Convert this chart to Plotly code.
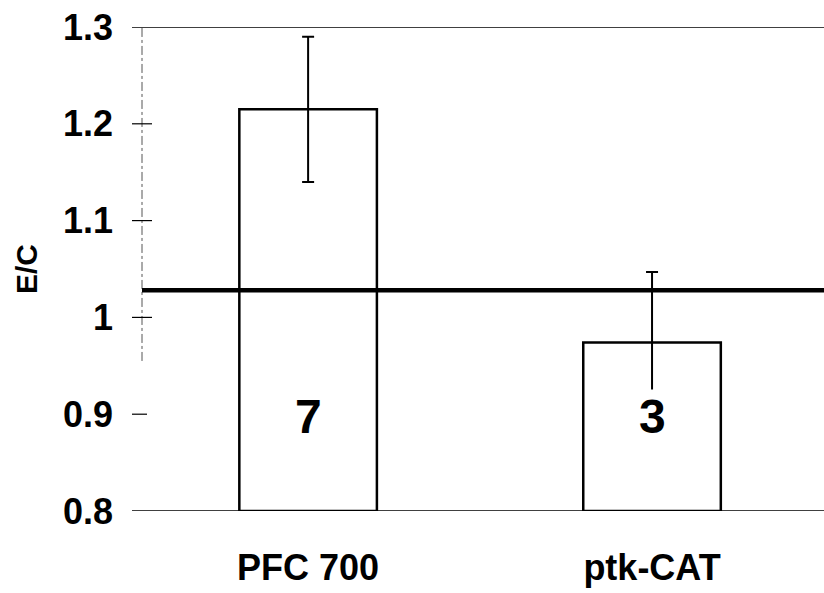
import plotly.graph_objects as go

categories = ["PFC 700", "ptk-CAT"]
ec_values = [1.215, 0.974]
ec_errors = [0.075, 0.073]
n_counts = ["7", "3"]
reference_level = 1.028
tick_values = [0.8, 0.9, 1.0, 1.1, 1.2, 1.3]
tick_labels = ["0.8", "0.9", "1", "1.1", "1.2", "1.3"]

FONT = "Liberation Sans, Arial, sans-serif"
PLOT_W = 824 - 142

fig = go.Figure()
fig.add_trace(go.Bar(
    x=categories, y=[v - 0.8 for v in ec_values], base=0.8,
    width=0.4,
    marker=dict(color="white", line=dict(color="black", width=2.5)),
    error_y=dict(type="data", array=ec_errors, visible=True,
                 color="black", thickness=2, width=6),
    showlegend=False, hoverinfo="skip",
))

shapes = []
# reference line
shapes.append(dict(type="line", xref="paper", yref="y", x0=0, x1=1,
                   y0=reference_level, y1=reference_level,
                   line=dict(color="black", width=4.5), layer="above"))
# top and bottom frame lines
for yv in (tick_values[0], tick_values[-1]):
    shapes.append(dict(type="line", xref="paper", yref="y", x0=-10 / PLOT_W, x1=1,
                       y0=yv, y1=yv, line=dict(color="black", width=1.5), layer="below"))
# faded left axis line
shapes.append(dict(type="line", xref="paper", yref="y", x0=0, x1=0,
                   y0=0.955, y1=tick_values[-1],
                   line=dict(color="#555555", width=1, dash="dashdot"), layer="below"))
# crossing ticks
for tv in tick_values[1:-1]:
    x1 = 10 / PLOT_W if tv != 0.9 else 5 / PLOT_W
    shapes.append(dict(type="line", xref="paper", yref="y", x0=-10 / PLOT_W, x1=x1,
                       y0=tv, y1=tv, line=dict(color="black", width=1.2), layer="below"))

annotations = []
for cat, n in zip(categories, n_counts):
    annotations.append(dict(x=cat, y=0.898, xref="x", yref="y", text="<b>%s</b>" % n,
                            showarrow=False, bgcolor="white", borderpad=0,
                            font=dict(family=FONT, size=48, color="black")))

fig.update_layout(
    width=824, height=593,
    margin=dict(l=142, r=0, t=27, b=82),
    plot_bgcolor="white", paper_bgcolor="white",
    bargap=0.6,
    shapes=shapes, annotations=annotations,
    xaxis=dict(range=[-0.483, 1.5], showline=False, showgrid=False, zeroline=False,
               ticks="", tickvals=categories,
               ticktext=["<b>%s</b>" % c for c in categories],
               tickfont=dict(family=FONT, size=36, color="black"),
               ticklabelstandoff=32),
    yaxis=dict(range=[0.8, 1.3], showline=False, showgrid=False, zeroline=False,
               ticks="", tickvals=tick_values,
               ticktext=["<b>%s</b>" % t for t in tick_labels],
               tickfont=dict(family=FONT, size=36, color="black"),
               ticklabelstandoff=28,
               title=dict(text="<b>E/C</b>", font=dict(family=FONT, size=30, color="black"),
                          standoff=16)),
)

fig.write_html("out.html")
